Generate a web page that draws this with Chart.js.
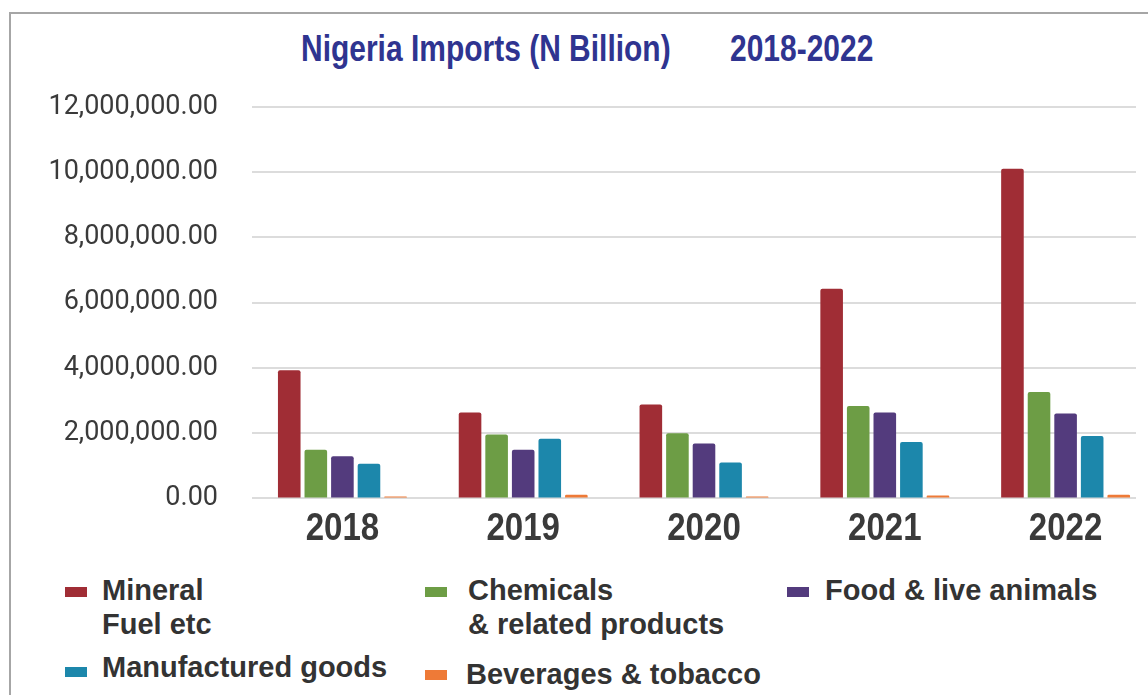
<!DOCTYPE html>
<html>
<head>
<meta charset="utf-8">
<script src="https://cdn.jsdelivr.net/npm/chart.js@4.4.0/dist/chart.umd.min.js"></script>
<style>
    html, body { margin: 0; padding: 0; background: #fff; }
    body { width: 1148px; height: 695px; overflow: hidden; position: relative; }
    .frame { position: absolute; left: 9px; top: 12px; width: 1200px; height: 800px;
             border-left: 2px solid #a6a6a6; border-top: 2px solid #a6a6a6; }
    .title { position: absolute; top: 30px; font: bold 37px "Liberation Sans", Arial, sans-serif;
             line-height: 37px; color: #2f3490; white-space: nowrap;
             transform: scaleX(0.81); transform-origin: left top; }
    .plot { position: absolute; left: 0; top: 0; width: 1136px; height: 560px; overflow: hidden; }
    .plot canvas { position: absolute; left: 0; top: 0; }
    .leg { position: absolute; font: bold 29px "Liberation Sans", Arial, sans-serif; line-height: 34px;
           color: #333; white-space: pre; }
    .box { position: absolute; width: 22px; height: 10px; }
</style>
</head>
<body>
<div class="frame"></div>
<div class="title" style="left:301px">Nigeria Imports (N Billion)</div>
<div class="title" style="left:730px">2018-2022</div>
<div class="plot"><canvas id="importsChart" width="1160" height="560"></canvas></div>
<div id="legend"></div>

<script>
const years = ['2018', '2019', '2020', '2021', '2022'];
const seriesNames = ['Mineral\nFuel etc', 'Chemicals\n& related products', 'Food & live animals',
                     'Manufactured goods', 'Beverages & tobacco'];
const seriesColors = ['#a02d35', '#6d9d45', '#533b7d', '#1c87ab', '#ee7a37'];

// N Billion per year
const mineralFuel   = [3930000, 2630000, 2880000, 6430000, 10110000];
const chemicals     = [1490000, 1960000, 2000000, 2830000, 3260000];
const foodAnimals   = [1290000, 1490000, 1680000, 2630000, 2600000];
const manufactured  = [1060000, 1830000, 1100000, 1730000, 1910000];
const beverages     = [60000, 110000, 60000, 90000, 110000];
const seriesValues = [mineralFuel, chemicals, foodAnimals, manufactured, beverages];

const yTicksMax = 12000000;
const yTicksStep = 2000000;

// legend placement: [box x, box y, text x, text y]
const legendSpots = [
    [65, 587, 102, 573],
    [425, 587, 468, 573],
    [787, 587, 825, 573],
    [65, 667, 102, 650],
    [425, 670, 466, 657]
];

const legend = document.getElementById('legend');
seriesNames.forEach((name, i) => {
    const [bx, by, tx, ty] = legendSpots[i];
    const box = document.createElement('div');
    box.className = 'box';
    box.style.cssText = `left:${bx}px; top:${by}px; background:${seriesColors[i]};`;
    const txt = document.createElement('div');
    txt.className = 'leg';
    txt.style.cssText = `left:${tx}px; top:${ty}px;`;
    txt.textContent = name;
    legend.appendChild(box);
    legend.appendChild(txt);
});

// year labels are drawn a little condensed, on the x scale's tick positions
const narrowYears = {
    id: 'narrowYears',
    afterDraw(chart) {
        const xs = chart.scales.x;
        const c = chart.ctx;
        c.save();
        c.fillStyle = '#3a3a3a';
        c.font = 'bold 38px "Liberation Sans", Arial';
        c.textAlign = 'center';
        c.textBaseline = 'alphabetic';
        xs.ticks.forEach((t, i) => {
            c.save();
            c.translate(xs.getPixelForTick(i), chart.chartArea.bottom + 42);
            c.scale(0.87, 1);
            c.fillText(years[i], 0, 0);
            c.restore();
        });
        c.restore();
    }
};

const ctx = document.getElementById('importsChart').getContext('2d');
new Chart(ctx, {
    type: 'bar',
    data: {
        labels: years,
        datasets: seriesNames.map((name, i) => ({
            label: name.replace('\n', ' '),
            data: seriesValues[i],
            backgroundColor: seriesColors[i],
            borderRadius: 2,
            borderSkipped: 'bottom',
            categoryPercentage: 0.735,
            barPercentage: 0.85
        }))
    },
    options: {
        responsive: false,
        animation: false,
        layout: { padding: { left: 50, top: 107, right: 4, bottom: 0 } },
        plugins: { legend: { display: false }, tooltip: { enabled: false }, title: { display: false } },
        scales: {
            x: {
                grid: { display: false, drawTicks: false },
                border: { display: false },
                ticks: {
                    padding: 8,
                    color: 'rgba(0,0,0,0)',
                    font: { family: '"Liberation Sans", Arial', size: 38, weight: 'bold' }
                }
            },
            y: {
                min: 0,
                max: yTicksMax,
                afterFit: (scale) => { scale.width = 202; },
                grid: { color: '#dcdcdc', lineWidth: 2, drawTicks: false },
                border: { display: false },
                ticks: {
                    stepSize: yTicksStep,
                    padding: 34,
                    color: '#3a3a3a',
                    font: { family: 'Roboto', size: 27 },
                    callback: (v) => v.toLocaleString('en-US', { minimumFractionDigits: 2, maximumFractionDigits: 2 })
                }
            }
        }
    },
    plugins: [narrowYears]
});
</script>
</body>
</html>
